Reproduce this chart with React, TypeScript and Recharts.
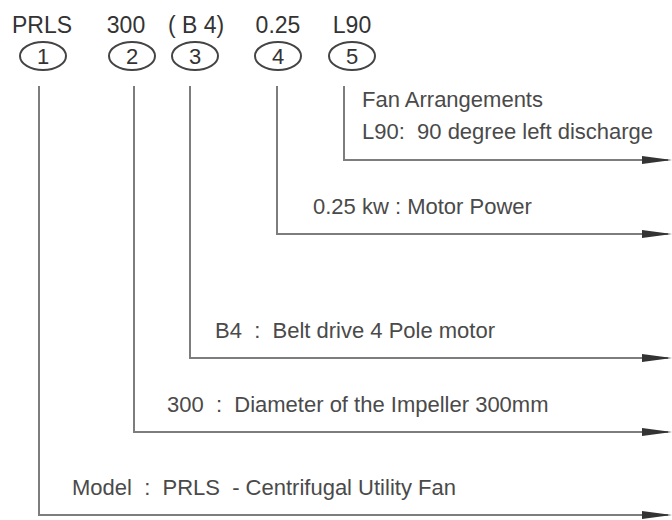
import React from "react";
import { ComposedChart, Line, Scatter, XAxis, YAxis } from "recharts";

// model code parts, top row
const codes = ["PRLS", "300", "( B 4)", "0.25", "L90"];
const numbers = ["1", "2", "3", "4", "5"];
const codeX = [42, 126, 196, 278, 352];
const markX = [43, 132, 195, 278, 352];

// leader lines (one per code part)
const leaderX = [39, 134, 190, 277, 344];
const leaderTop = 86;
const leaderY = [515, 432, 358, 234, 160];
const arrowTip = 672;

// explanations
const descText = [
  "Model  :  PRLS  - Centrifugal Utility Fan",
  "300  :  Diameter of the Impeller 300mm",
  "B4  :  Belt drive 4 Pole motor",
  "0.25 kw : Motor Power",
  "Fan Arrangements",
  "L90:  90 degree left discharge",
];
const descX = [72, 167, 215, 313, 362, 362];
const descY = [495, 412, 338, 214, 107, 139];

const W = 672;
const H = 520;
const FONT = "'Liberation Sans', Arial, sans-serif";

const codeData = codes.map((c, i) => ({ x: codeX[i], y: 33, label: c }));
const markData = numbers.map((n, i) => ({ x: markX[i], y: 56, label: n }));
const descData = descText.map((t, i) => ({ x: descX[i], y: descY[i], label: t }));
const arrowData = leaderY.map((y) => ({ x: arrowTip, y }));
const leaders = leaderX.map((x, i) => [
  { x, y: leaderTop },
  { x, y: leaderY[i] },
  { x: arrowTip - 4, y: leaderY[i] },
]);

const CodeText = (p: any) => (
  <text x={p.cx} y={p.cy} textAnchor="middle" fontSize={23} fill="#333" fontFamily={FONT}>
    {p.payload.label}
  </text>
);

const Mark = (p: any) => (
  <g>
    <ellipse cx={p.cx} cy={p.cy} rx={23} ry={14} fill="none" stroke="#444" strokeWidth={2} />
    <text x={p.cx} y={p.cy + 8} textAnchor="middle" fontSize={22} fill="#333" fontFamily={FONT}>
      {p.payload.label}
    </text>
  </g>
);

const DescText = (p: any) => (
  <text x={p.cx} y={p.cy} fontSize={22} fill="#4a4a4a" fontFamily={FONT} style={{ whiteSpace: "pre" }}>
    {p.payload.label}
  </text>
);

const Arrow = (p: any) => (
  <polygon
    points={`${p.cx},${p.cy} ${p.cx - 30},${p.cy - 4} ${p.cx - 30},${p.cy + 4}`}
    fill="#333"
  />
);

export default function App() {
  return (
    <div style={{ position: "absolute", left: 0, top: 0, background: "#fff" }}>
      <ComposedChart width={W} height={H} margin={{ top: 0, right: 0, bottom: 0, left: 0 }}>
        <XAxis type="number" dataKey="x" domain={[0, W]} allowDataOverflow hide />
        <YAxis type="number" dataKey="y" domain={[0, H]} reversed allowDataOverflow hide />
        {leaders.map((d, i) => (
          <Line
            key={i}
            data={d}
            dataKey="y"
            type="linear"
            stroke="#7d7d7d"
            strokeWidth={2}
            dot={false}
            activeDot={false}
            isAnimationActive={false}
          />
        ))}
        <Scatter data={arrowData} dataKey="y" shape={Arrow} isAnimationActive={false} />
        <Scatter data={codeData} dataKey="y" shape={CodeText} isAnimationActive={false} />
        <Scatter data={markData} dataKey="y" shape={Mark} isAnimationActive={false} />
        <Scatter data={descData} dataKey="y" shape={DescText} isAnimationActive={false} />
      </ComposedChart>
    </div>
  );
}
